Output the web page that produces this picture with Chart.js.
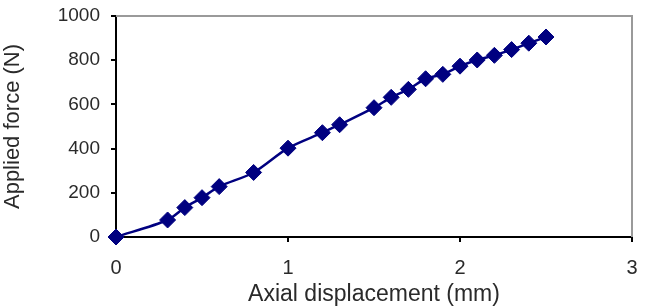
<!DOCTYPE html>
<html>
<head>
<meta charset="utf-8">
<script src="https://cdn.jsdelivr.net/npm/chart.js@4.4.0/dist/chart.umd.min.js"></script>
<style>
  html, body { margin: 0; padding: 0; background: #fff; }
  #wrap { width: 646px; height: 308px; }
</style>
</head>
<body>
<div id="wrap"><canvas id="chart" width="646" height="308"></canvas></div>
<script>
// Axial displacement (mm) and applied force (N)
var displacement = [0, 0.3, 0.4, 0.5, 0.6, 0.8, 1.0, 1.2, 1.3, 1.5, 1.6, 1.7, 1.8, 1.9, 2.0, 2.1, 2.2, 2.3, 2.4, 2.5];
var force = [0, 77, 133, 178, 228, 292, 402, 472, 508, 585, 632, 668, 716, 736, 773, 801, 822, 848, 877, 905];

var xTicks = [0, 1, 2, 3];
var yTicks = [0, 200, 400, 600, 800, 1000];

var points = displacement.map(function (x, i) { return { x: x, y: force[i] }; });

// gray frame on the top and right of the plot area
var frame = {
    id: 'frame',
    afterDraw: function (chart) {
        var a = chart.chartArea;
        var ctx = chart.ctx;
        ctx.save();
        ctx.strokeStyle = '#9a9a9a';
        ctx.lineWidth = 2;
        ctx.beginPath();
        ctx.moveTo(a.left, a.top);
        ctx.lineTo(a.right, a.top);
        ctx.lineTo(a.right, a.bottom);
        ctx.stroke();
        ctx.restore();
    }
};

var ctx = document.getElementById('chart').getContext('2d');
var chart = new Chart(ctx, {
    type: 'scatter',
    data: {
        datasets: [{
            data: points,
            showLine: true,
            borderColor: '#000080',
            backgroundColor: '#000080',
            borderWidth: 2.5,
            tension: 0.3,
            pointStyle: 'rectRot',
            pointRadius: 8,
            pointBorderWidth: 1,
            clip: false
        }]
    },
    options: {
        responsive: false,
        animation: false,
        layout: { padding: { left: 0, right: 14, top: 16, bottom: 0 } },
        plugins: { legend: { display: false }, tooltip: { enabled: false } },
        scales: {
            x: {
                type: 'linear',
                min: 0,
                max: 3,
                afterBuildTicks: function (axis) {
                    axis.ticks = xTicks.map(function (v) { return { value: v }; });
                },
                afterFit: function (axis) {
                    axis.height = 71;
                    axis.paddingLeft = 0;
                    axis.paddingRight = 4;
                },
                grid: { drawOnChartArea: false, drawTicks: true, tickLength: 5, color: '#000', lineWidth: 2 },
                border: { color: '#000', width: 2 },
                ticks: {
                    color: '#2a2a2a', padding: 14,
                    font: { family: 'Liberation Sans', size: 20 },
                    callback: function (v) { return String(v); }
                },
                title: {
                    display: true,
                    text: 'Axial displacement (mm)',
                    color: '#2a2a2a',
                    padding: { top: -4, bottom: 0 },
                    font: { family: 'Liberation Sans', size: 23 }
                }
            },
            y: {
                type: 'linear',
                min: 0,
                max: 1000,
                afterBuildTicks: function (axis) {
                    axis.ticks = yTicks.map(function (v) { return { value: v }; });
                },
                afterFit: function (axis) {
                    axis.width = 116;
                    axis.paddingTop = 4;
                    axis.paddingBottom = 0;
                },
                grid: { drawOnChartArea: false, drawTicks: true, tickLength: 5, color: '#000', lineWidth: 2 },
                border: { color: '#000', width: 2 },
                ticks: {
                    color: '#2a2a2a', padding: 11,
                    font: { family: 'Liberation Sans', size: 19 },
                    callback: function (v) { return String(v); }
                },
                title: {
                    display: true,
                    text: 'Applied force (N)',
                    color: '#2a2a2a',
                    padding: { top: 0, bottom: 8 },
                    font: { family: 'Liberation Sans', size: 22 }
                }
            }
        }
    },
    plugins: [frame]
});
</script>
</body>
</html>
